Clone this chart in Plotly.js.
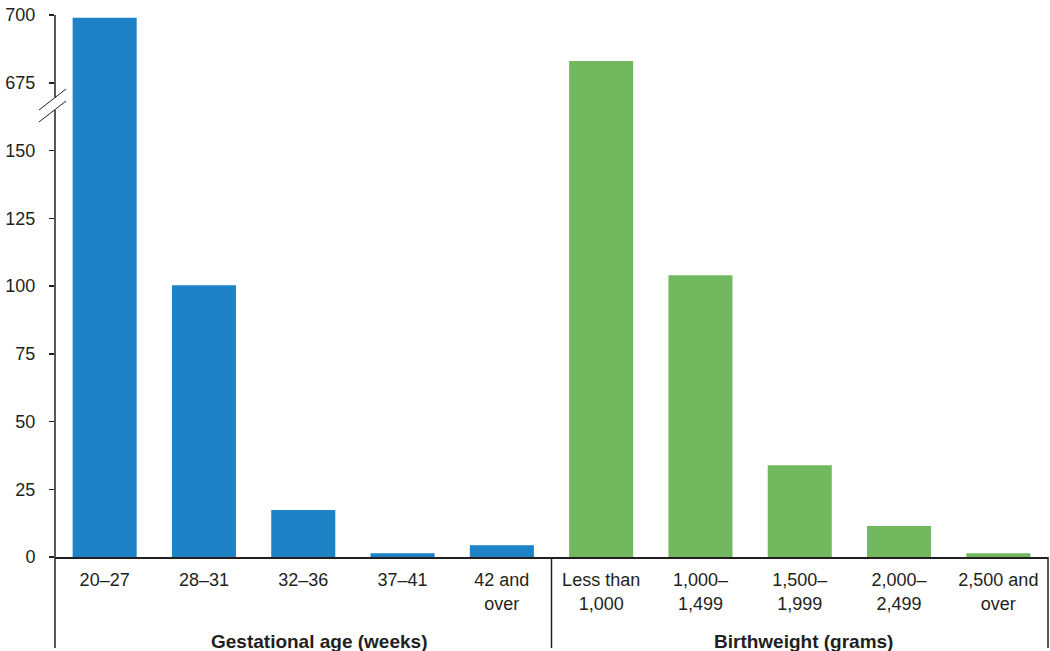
<!DOCTYPE html>
<html>
<head>
<meta charset="utf-8">
<script src="https://cdn.plot.ly/plotly-3.0.1.min.js"></script>
<style>
  html, body { margin: 0; padding: 0; background: #fff; }
  #chart { width: 1050px; height: 651px; }
</style>
</head>
<body>
<div id="chart"></div>
<script>
// ---- Data ----
const gestCategories = ["20–27", "28–31", "32–36", "37–41", "42 and<br>over"];
const gestValues = [699, 100.3, 17.3, 1.4, 4.3];

const bwCategories = ["Less than<br>1,000", "1,000–<br>1,499", "1,500–<br>1,999", "2,000–<br>2,499", "2,500 and<br>over"];
const bwValues = [683, 104, 33.9, 11.4, 1.4];

const yTickValues = [0, 25, 50, 75, 100, 125, 150, 675, 700];
const groupLabels = ["Gestational age (weeks)", "Birthweight (grams)"];

// Broken axis: values above the break are shifted down by 500
const BREAK_SHIFT = 500;
const toDisplay = v => (v >= 600 ? v - BREAK_SHIFT : v);

const textColor = "#231f20";
const fontFam = "'Liberation Sans', Arial, Helvetica, sans-serif";

const traces = [
  {
    type: "bar",
    x: gestCategories,
    y: gestValues.map(toDisplay),
    customdata: gestValues,
    marker: { color: "#1e82c6", line: { width: 0 } },
    hovertemplate: "%{x}: %{customdata}<extra></extra>"
  },
  {
    type: "bar",
    x: bwCategories,
    y: bwValues.map(toDisplay),
    customdata: bwValues,
    marker: { color: "#72b85e", line: { width: 0 } },
    hovertemplate: "%{x}: %{customdata}<extra></extra>"
  }
];

const allCats = gestCategories.concat(bwCategories);

const lineStyle = { color: textColor, width: 1.5 };
const shapes = [
  // y axis upper segment (above break)
  { type: "line", xref: "paper", yref: "y", x0: 0, x1: 0, y0: 169.5, y1: 200, line: lineStyle },
  // y axis lower segment, extending below plot
  { type: "line", xref: "paper", yref: "paper", x0: 0, x1: 0, y0: -0.168, y1: 0.8247, line: lineStyle },
  // break marks
  { type: "line", xref: "paper", yref: "paper", x0: -0.0161, x1: 0.0111, y0: 0.8247, y1: 0.8635, line: { color: textColor, width: 1 } },
  { type: "line", xref: "paper", yref: "paper", x0: -0.0161, x1: 0.0111, y0: 0.8026, y1: 0.8413, line: { color: textColor, width: 1 } },
  // group divider and right border below axis
  { type: "line", xref: "paper", yref: "paper", x0: 0.5, x1: 0.5, y0: -0.168, y1: 0, line: lineStyle },
  { type: "line", xref: "paper", yref: "paper", x0: 1, x1: 1, y0: -0.168, y1: 0, line: lineStyle }
];

const annotations = [
  { text: "<b>" + groupLabels[0] + "</b>", xref: "paper", yref: "paper", x: 0.2659, y: -0.155,
    xanchor: "center", yanchor: "middle", showarrow: false, font: { size: 19, color: textColor, family: fontFam } },
  { text: "<b>" + groupLabels[1] + "</b>", xref: "paper", yref: "paper", x: 0.754, y: -0.155,
    xanchor: "center", yanchor: "middle", showarrow: false, font: { size: 19, color: textColor, family: fontFam } }
];

const layout = {
  width: 1050,
  height: 651,
  margin: { l: 55, r: 2, t: 15, b: 94 },
  paper_bgcolor: "#fff",
  plot_bgcolor: "#fff",
  showlegend: false,
  barmode: "overlay",
  bargap: 0.355,
  font: { family: fontFam, size: 18, color: textColor },
  xaxis: {
    type: "category",
    categoryorder: "array",
    categoryarray: allCats,
    range: [-0.5, 9.5],
    showline: true,
    linecolor: textColor,
    linewidth: 1.5,
    ticks: "",
    showgrid: false,
    zeroline: false,
    tickfont: { size: 18, color: textColor },
    ticklabelstandoff: 6
  },
  yaxis: {
    range: [0, 200],
    tickvals: yTickValues.map(toDisplay),
    ticktext: yTickValues.map(String),
    ticks: "outside",
    ticklen: 5,
    tickwidth: 1.5,
    tickcolor: textColor,
    showline: false,
    showgrid: false,
    zeroline: false,
    tickfont: { size: 18, color: textColor },
    ticklabelstandoff: 10
  },
  shapes: shapes,
  annotations: annotations
};

Plotly.newPlot("chart", traces, layout, { displayModeBar: false, staticPlot: true });
</script>
</body>
</html>
